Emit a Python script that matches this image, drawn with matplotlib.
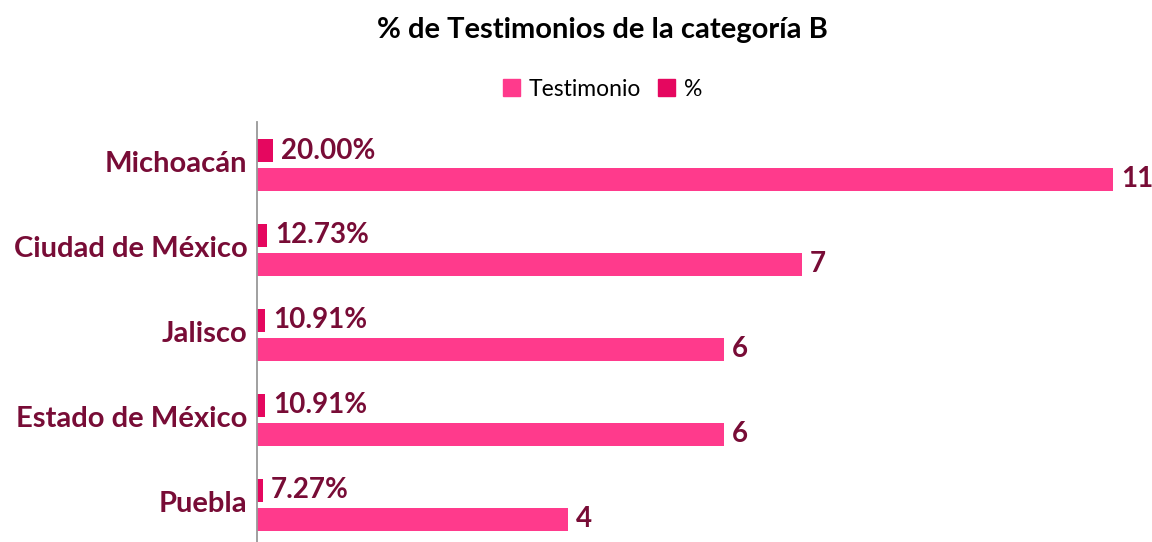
import numpy as np
import matplotlib
matplotlib.use("Agg")
import matplotlib.pyplot as plt
from matplotlib.patches import Patch

plt.rcParams['font.family'] = ['Lato', 'DejaVu Sans']

estados = ['Michoacán', 'Ciudad de México', 'Jalisco', 'Estado de México', 'Puebla']
testimonios = [11, 7, 6, 6, 4]
porcentajes = [20.00, 12.73, 10.91, 10.91, 7.27]

color_test = '#FF3A8C'
color_pct = '#E5075F'
color_txt = '#780C36'

fig = plt.figure(figsize=(11.52, 5.42), dpi=100)
ax = fig.add_axes([257 / 1152, 0, 1 - 257 / 1152, 1 - 122 / 542])

y = np.arange(len(estados))
h = 0.27
off = 0.17
# % bars drawn on the same scale as the counts (fraction, like the original)
ax.barh(y - off, [p / 100 for p in porcentajes], height=h, color=color_pct)
ax.barh(y + off, testimonios, height=h, color=color_test)

for yi, p in zip(y, porcentajes):
    ax.annotate('{:.2f}%'.format(p), xy=(p / 100, yi - off), xytext=(8, 0),
                textcoords='offset pixels', va='center', ha='left',
                fontsize=20, fontweight='bold', color=color_txt)
for yi, t in zip(y, testimonios):
    ax.annotate(str(t), xy=(t, yi + off), xytext=(8, 0),
                textcoords='offset pixels', va='center', ha='left',
                fontsize=20, fontweight='bold', color=color_txt)

ax.set_xlim(0, 11.5)
ax.set_ylim(4.44, -0.506)
ax.set_yticks(y - 0.04)
ax.set_yticklabels(estados, fontsize=21, fontweight='bold', color=color_txt)
ax.tick_params(axis='y', length=0, pad=7)
ax.set_xticks([])
for s in ['top', 'right', 'bottom']:
    ax.spines[s].set_visible(False)
ax.spines['left'].set_color('#999999')
ax.spines['left'].set_linewidth(1.3)

fig.text(0.523, 1 - 30 / 542, '% de Testimonios de la categoría B', ha='center', va='center',
         fontsize=21, fontweight='bold', color='black')

handles = [Patch(color=color_test, label='Testimonio'), Patch(color=color_pct, label='%')]
fig.legend(handles=handles, loc='center', bbox_to_anchor=(0.523, 1 - 89 / 542), ncol=2,
           frameon=False, fontsize=16.5, handlelength=0.75, handleheight=0.75,
           handletextpad=0.4, columnspacing=0.7)

fig.savefig('out.png', dpi=100)
